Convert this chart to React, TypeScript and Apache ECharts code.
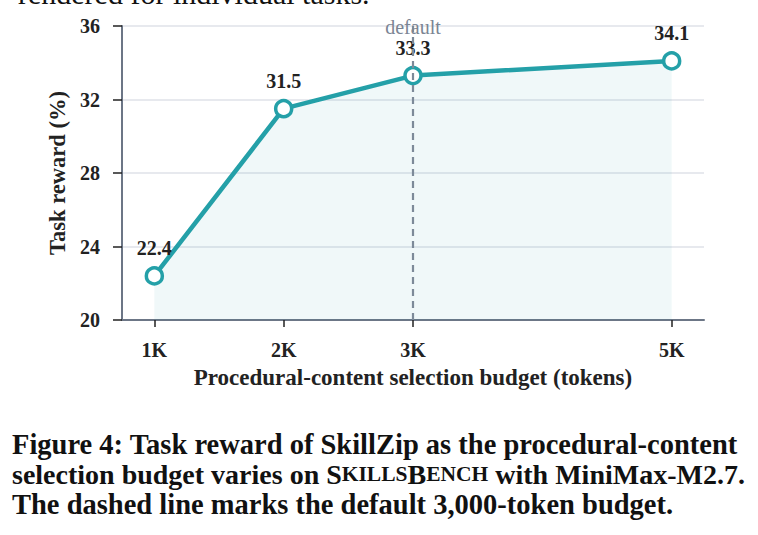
import { useEffect, useRef } from 'react';
import * as echarts from 'echarts';

const budgets = [1, 2, 3, 5];
const rewards = [22.4, 31.5, 33.3, 34.1];
const yTicks = [20, 24, 28, 32, 36];
const defaultBudget = 3;

const topLine = 'rendered for individual tasks.';
const captionLine1 = 'Figure 4: Task reward of SkillZip as the procedural-content';
const captionLine3 = 'The dashed line marks the default 3,000-token budget.';

const SERIF = '"Liberation Serif", "DejaVu Serif", serif';
const TEAL = '#24a0a8';
const AXIS = '#6c7686';
const INK = '#222222';

const App: React.FC = () => {
    const chartRef = useRef<HTMLDivElement>(null);

    useEffect(() => {
        if (!chartRef.current) return;
        const chart = echarts.init(chartRef.current, null, { renderer: 'svg' });

        const capStyle = { fontFamily: SERIF, fontWeight: 'bold' as const, fontSize: 28.5, fill: '#111' };

        chart.setOption({
            animation: false,
            backgroundColor: '#ffffff',
            grid: { left: 122, right: 54, top: 26, bottom: 215 },
            xAxis: {
                type: 'value',
                min: 0.75,
                max: 5.25,
                name: 'Procedural-content selection budget (tokens)',
                nameLocation: 'middle',
                nameGap: 46,
                nameTextStyle: { fontFamily: SERIF, fontWeight: 'bold', fontSize: 23, color: INK },
                axisLine: { show: true, lineStyle: { color: AXIS, width: 2 } },
                axisTick: { show: true, customValues: budgets, length: 7, lineStyle: { color: INK, width: 1.5 } },
                axisLabel: {
                    customValues: budgets,
                    formatter: (v: number) => `${v}K`,
                    fontFamily: SERIF,
                    fontWeight: 'bold',
                    fontSize: 20,
                    color: INK,
                    margin: 20
                },
                splitLine: { show: false }
            },
            yAxis: {
                type: 'value',
                min: yTicks[0],
                max: yTicks[yTicks.length - 1],
                interval: 4,
                name: 'Task reward (%)',
                nameLocation: 'middle',
                nameGap: 48,
                nameTextStyle: { fontFamily: SERIF, fontWeight: 'bold', fontSize: 22.5, color: INK },
                axisLine: { show: true, lineStyle: { color: AXIS, width: 2 } },
                axisTick: { show: true, length: 9, lineStyle: { color: INK, width: 1.5 } },
                axisLabel: { fontFamily: SERIF, fontWeight: 'bold', fontSize: 20, color: INK, margin: 22 },
                splitLine: { show: true, lineStyle: { color: '#dfe2e8', width: 1.5 } }
            },
            series: [
                {
                    type: 'line',
                    data: budgets.map((b, i) => [b, rewards[i]]),
                    color: TEAL,
                    lineStyle: { color: TEAL, width: 4.5 },
                    symbol: 'circle',
                    symbolSize: 16,
                    itemStyle: { color: '#ffffff', borderColor: TEAL, borderWidth: 3.5 },
                    areaStyle: { color: 'rgba(36,160,168,0.10)', origin: 'start' },
                    label: {
                        show: true,
                        position: 'top',
                        distance: 8,
                        formatter: (p: any) => p.value[1].toFixed(1),
                        fontFamily: SERIF,
                        fontWeight: 'bold',
                        fontSize: 20,
                        color: INK
                    },
                    markLine: {
                        silent: true,
                        symbol: 'none',
                        data: [{ xAxis: defaultBudget }],
                        lineStyle: { type: [7, 5], color: '#7d8a99', width: 2.2 },
                        label: {
                            show: true,
                            position: 'end',
                            distance: -11,
                            formatter: 'default',
                            fontFamily: SERIF,
                            fontSize: 20,
                            color: '#7b8594'
                        }
                    }
                }
            ],
            graphic: [
                {
                    type: 'text',
                    left: 18,
                    top: -22,
                    style: { text: topLine, fontFamily: SERIF, fontSize: 30, fill: '#111' }
                },
                {
                    type: 'text',
                    left: 12,
                    top: 430,
                    style: { ...capStyle, text: captionLine1 }
                },
                {
                    type: 'text',
                    left: 12,
                    top: 460,
                    style: {
                        ...capStyle,
                        fontSize: 28,
                        text: 'selection budget varies on {sc|S}{scs|KILLS}{sc|B}{scs|ENCH} with MiniMax-M2.7.',
                        rich: {
                            sc: { fontFamily: SERIF, fontWeight: 'bold', fontSize: 28, fill: '#111' },
                            scs: { fontFamily: SERIF, fontWeight: 'bold', fontSize: 21.5, fill: '#111' }
                        }
                    }
                },
                {
                    type: 'text',
                    left: 12,
                    top: 490,
                    style: { ...capStyle, text: captionLine3 }
                }
            ]
        });

        return () => {
            chart.dispose();
        };
    }, []);

    return (
        <div
            ref={chartRef}
            style={{ position: 'fixed', left: 0, top: 0, width: 758, height: 535, background: '#fff' }}
        />
    );
};

export default App;
